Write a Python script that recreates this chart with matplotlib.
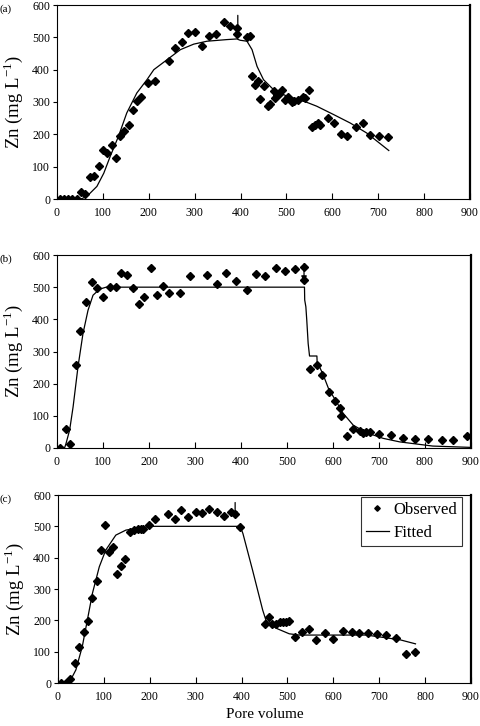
import matplotlib

matplotlib.use("Agg")
import matplotlib.pyplot as plt

plt.rcParams["font.family"] = ["Liberation Serif", "DejaVu Serif"]
plt.rcParams["mathtext.fontset"] = "custom"
plt.rcParams["mathtext.rm"] = "Liberation Serif"

# observed data, panel (a)
a_x = [6, 16, 25, 33, 43, 52, 62, 73, 81, 92, 101, 110, 119, 128, 137, 147, 157, 166, 174, 182,
       198, 214, 244, 257, 272, 286, 301, 317, 332, 347, 363, 376, 392, 393, 415, 421, 424, 431, 437, 443,
       451, 460, 465, 472, 476, 480, 484, 490, 496, 504, 513, 516, 525, 535, 540, 549, 555, 562, 568, 574,
       590, 603, 618, 633, 651, 667, 683, 702, 721]
a_y = [0, 0, 0, 0, 0, 21, 17, 67, 72, 101, 153, 142, 168, 127, 196, 209, 229, 274, 302, 316,
       359, 364, 428, 466, 485, 513, 516, 473, 503, 509, 548, 534, 530, 510, 500, 505, 381, 353, 366, 309,
       351, 288, 294, 333, 312, 321, 326, 337, 307, 317, 301, 304, 305, 316, 311, 336, 224, 228, 236, 229,
       250, 235, 201, 196, 224, 235, 199, 194, 191]
# fitted curve, panel (a)
fa_x = [45, 54, 65, 87, 102, 116, 134, 152, 174, 196, 211, 240, 269, 298, 327, 370, 392, 399,
        414, 425, 436, 450, 472, 501, 530, 566, 603, 639, 675, 723]
fa_y = [0, 1, 8, 39, 80, 132, 194, 266, 328, 369, 400, 431, 462, 479, 488, 493, 495, 491,
        488, 462, 410, 369, 338, 318, 307, 287, 261, 235, 204, 150]

# observed data, panel (b)
b_x = [6, 19, 29, 41, 51, 63, 75, 88, 101, 115, 128, 139, 152, 165, 178, 190, 204, 217, 230, 244,
       267, 289, 326, 347, 367, 389, 412, 432, 453, 475, 495, 517, 538, 538, 551, 565, 577, 591, 604, 615,
       617, 631, 644, 659, 665, 671, 680, 701, 727, 752, 778, 807, 836, 861, 892]
b_y = [0, 59, 13, 259, 363, 453, 517, 497, 470, 502, 502, 544, 538, 498, 449, 469, 560, 477, 503, 483,
       482, 535, 538, 511, 545, 519, 492, 542, 536, 560, 551, 558, 563, 523, 247, 259, 228, 174, 145, 123,
       101, 36, 58, 53, 47, 51, 51, 45, 40, 32, 28, 28, 26, 26, 38]
# fitted curve, panel (b)
fb_x = [2, 17, 20, 27.5, 35, 45.6, 56.5, 67.4, 78.3, 92.8, 107, 538, 538.5, 541, 543, 546, 549, 565,
        565.5, 578, 591, 604, 622, 644, 672, 709, 745, 817, 897]
fb_y = [0, 2, 16, 56, 128, 252, 356, 428, 475, 494, 500, 500, 460, 439, 397, 325, 286, 286,
        268, 230, 182, 152, 108, 71, 48, 30, 19, 6, 2]

# observed data, panel (c)
c_x = [6, 17, 26, 36, 46, 56, 65, 75, 84, 93, 103, 111, 119, 128, 137, 146, 157, 166, 174, 181,
       186, 198, 212, 240, 254, 268, 284, 300, 314, 330, 346, 362, 377, 386, 397, 452, 459, 467, 475, 483,
       491, 497, 503, 516, 531, 547, 563, 582, 600, 621, 641, 656, 676, 696, 715, 736, 758, 779]
c_y = [0, 0, 14, 64, 116, 163, 197, 271, 324, 426, 503, 419, 435, 347, 373, 397, 481, 488, 490, 492,
       492, 503, 523, 540, 522, 553, 529, 546, 544, 556, 545, 532, 545, 539, 499, 187, 211, 188, 188, 194,
       196, 196, 197, 148, 163, 172, 138, 159, 142, 165, 163, 161, 161, 157, 153, 144, 93, 100]
# fitted curve, panel (c)
fc_x = [9, 28, 39, 53, 64, 75, 90, 104, 126, 148, 177, 206, 397, 403, 424, 446, 453, 475, 504,
        526, 672, 745, 779]
fc_y = [2, 11, 42, 117, 201, 286, 371, 424, 472, 488, 495, 500, 500, 477, 360, 233, 201, 175, 157,
        153, 153, 138, 125]

panel_labels = ["(a)", "(b)", "(c)"]
# vertical arrows marking the switch of influent (x, top, tip)
arrow_x = [394, 537, 386]
arrow_top = [568, 572, 576]
arrow_tip = [512, 517, 527]

x_ticks = list(range(0, 1000, 100))
y_ticks = list(range(0, 700, 100))

W, H = 481, 726
# axes boxes in pixels: left, top, right, bottom
boxes = [(57, 5, 470, 199), (57, 255, 471, 448), (58, 495, 471, 683)]

fig = plt.figure(figsize=(W / 100, H / 100), dpi=100)

panels = [(a_x, a_y, fa_x, fa_y), (b_x, b_y, fb_x, fb_y), (c_x, c_y, fc_x, fc_y)]
for i, (ox, oy, fx, fy) in enumerate(panels):
    l, t, r, b = boxes[i]
    ax = fig.add_axes([l / W, 1 - b / H, (r - l) / W, (b - t) / H])
    ax.plot(ox, oy, "D", color="black", markersize=4.0, label="Observed", zorder=3)
    ax.plot(fx, fy, "-", color="black", linewidth=0.9, label="Fitted", zorder=2)
    ax.annotate("", xy=(arrow_x[i], arrow_tip[i]), xytext=(arrow_x[i], arrow_top[i]),
                arrowprops=dict(arrowstyle="-|>", color="black", lw=0.9,
                                mutation_scale=8, shrinkA=0, shrinkB=0))
    ax.set_xlim(0, 900)
    ax.set_ylim(0, 600)
    ax.set_xticks(x_ticks)
    ax.set_yticks(y_ticks)
    ax.tick_params(axis="x", direction="in", length=4, width=0.8, labelsize=8.5, pad=6)
    ax.tick_params(axis="y", direction="out", length=3, width=0.8, labelsize=8.5, pad=2)
    for side in ["left", "top", "bottom"]:
        ax.spines[side].set_linewidth(0.8)
    ax.spines["right"].set_linewidth(1.6)
    ax.set_ylabel("Zn (mg L$^{-1}$)", fontsize=13.5, va="center")
    ax.yaxis.set_label_coords(-13 / 414 - 0.075, 0.5)
    fig.text(0.0, 1 - (t - 1) / H, panel_labels[i], fontsize=8, va="top", ha="left")
    if i == 2:
        ax.set_xlabel("Pore volume", fontsize=11)
        ax.xaxis.set_label_coords(0.5, -0.135)
        leg = ax.legend(loc="upper right", bbox_to_anchor=(1 - 9 / 413, 1 - 1.5 / 188),
                        borderaxespad=0, fontsize=12, frameon=True, fancybox=False,
                        handlelength=1.4, handletextpad=0.25, markerscale=0.7,
                        borderpad=0.3, labelspacing=0.45)
        leg.get_frame().set_edgecolor("black")
        leg.get_frame().set_linewidth(0.8)

plt.savefig("out.png", dpi=100)
plt.close()
